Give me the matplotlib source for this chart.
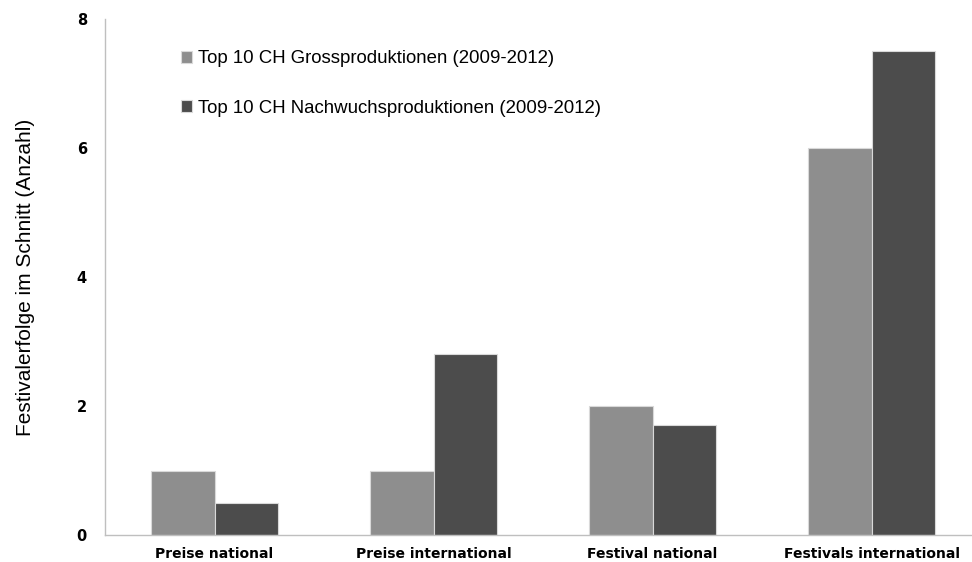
import matplotlib
matplotlib.use("Agg")
import matplotlib.pyplot as plt
import numpy as np

categories = ["Preise national", "Preise international", "Festival national", "Festivals international"]
gross = [1, 1, 2, 6]
nachwuchs = [0.5, 2.8, 1.7, 7.5]
series_labels = ["Top 10 CH Grossproduktionen (2009-2012)",
                 "Top 10 CH Nachwuchsproduktionen (2009-2012)"]
yticks = [0, 2, 4, 6, 8]

fig = plt.figure(figsize=(9.72, 5.62), dpi=100)
ax = fig.add_axes([105/972, 27/562, 876/972, 516/562])

x = np.arange(len(categories))
w = 0.288
ax.bar(x - w/2, gross, w, color="#8e8e8e", edgecolor="#d9d9d9", linewidth=0.8, label=series_labels[0])
ax.bar(x + w/2, nachwuchs, w, color="#4c4c4c", edgecolor="#d9d9d9", linewidth=0.8, label=series_labels[1])

ax.set_xlim(-0.5, 3.5)
ax.set_ylim(0, 8)
ax.set_yticks(yticks)
ax.set_yticklabels([str(t) for t in yticks], fontfamily="DejaVu Sans", fontweight="heavy", fontsize=10.5)
ax.set_xticks(x)
ax.set_xticklabels(categories, fontfamily="DejaVu Sans", fontweight="heavy", fontsize=10)
ax.tick_params(axis="x", length=0, pad=9)
ax.tick_params(axis="y", length=0, pad=13)

for s in ["top", "right"]:
    ax.spines[s].set_visible(False)
for s in ["left", "bottom"]:
    ax.spines[s].set_color("#bfbfbf")
    ax.spines[s].set_linewidth(1.0)

ax.set_ylabel("Festivalerfolge im Schnitt (Anzahl)", fontfamily="Liberation Sans", fontsize=15, labelpad=30)

ax.legend(loc="upper left", bbox_to_anchor=(0.068, 0.972), frameon=False,
          prop={"family": "Liberation Sans", "size": 13.4},
          handlelength=0.6, handleheight=0.6, handletextpad=0.3, labelspacing=1.75)

fig.savefig("out.png", dpi=100)
